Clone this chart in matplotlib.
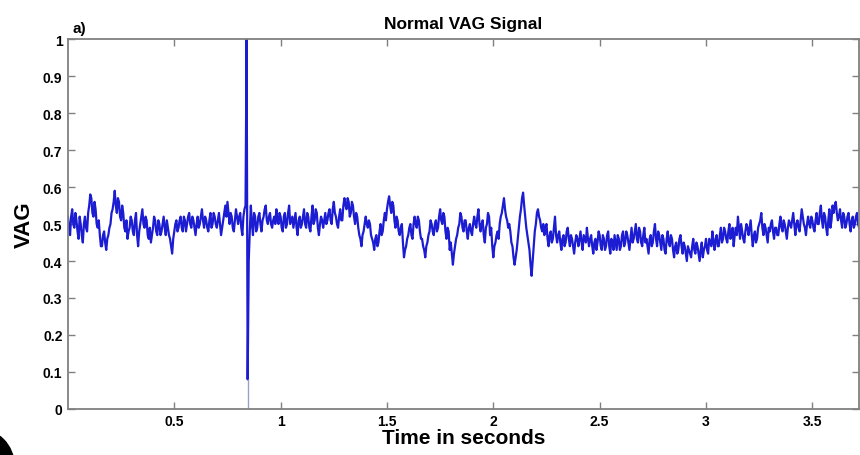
import numpy as np
import matplotlib
matplotlib.use('Agg')
import matplotlib.pyplot as plt
from matplotlib.patches import Circle
from matplotlib import rcParams
rcParams['font.family'] = 'Liberation Sans'
rcParams['font.weight'] = 'bold'

# VAG signal: samples every 0.01 s ...
dt = 0.01
vag = [
    0.52, 0.47, 0.54, 0.49, 0.51, 0.46, 0.50, 0.45, 0.52, 0.48,
    0.55, 0.57, 0.52, 0.54, 0.49, 0.47, 0.44, 0.48, 0.43, 0.47,
    0.50, 0.54, 0.59, 0.53, 0.56, 0.51, 0.53, 0.48, 0.46, 0.49,
    0.51, 0.47, 0.53, 0.44, 0.50, 0.54, 0.49, 0.51, 0.46, 0.45,
    0.49, 0.51, 0.47, 0.50, 0.48, 0.52, 0.47, 0.49, 0.46, 0.42,
    0.48, 0.51, 0.49, 0.52, 0.48, 0.51, 0.50, 0.53, 0.49, 0.51,
    0.47, 0.52, 0.50, 0.54, 0.49, 0.51, 0.48, 0.53, 0.50, 0.52,
    0.49, 0.53, 0.47, 0.51, 0.55, 0.56, 0.50, 0.52, 0.48, 0.54,
    0.50, 0.53, 0.47, 0.54, 1.00, 0.40, 0.55, 0.47, 0.52, 0.49,
    0.53, 0.48, 0.52, 0.55, 0.50, 0.53, 0.49, 0.52, 0.54, 0.50,
    0.52, 0.48, 0.53, 0.50, 0.55, 0.51, 0.49, 0.53, 0.47, 0.52,
    0.50, 0.54, 0.49, 0.52, 0.48, 0.55, 0.51, 0.53, 0.47, 0.52,
    0.49, 0.53, 0.51, 0.54, 0.50, 0.56, 0.52, 0.49, 0.54, 0.51,
    0.57, 0.54, 0.56, 0.53, 0.55, 0.50, 0.52, 0.47, 0.44, 0.48,
    0.52, 0.49, 0.50, 0.46, 0.43, 0.47, 0.45, 0.50, 0.48, 0.53,
    0.54, 0.575, 0.53, 0.55, 0.49, 0.51, 0.47, 0.50, 0.41, 0.44,
    0.47, 0.50, 0.46, 0.52, 0.49, 0.51, 0.46, 0.44, 0.41, 0.45,
    0.48, 0.50, 0.47, 0.51, 0.49, 0.54, 0.50, 0.52, 0.46, 0.48,
    0.45, 0.39, 0.44, 0.47, 0.50, 0.52, 0.48, 0.51, 0.46, 0.50,
    0.47, 0.52, 0.49, 0.54, 0.48, 0.51, 0.45, 0.50, 0.52, 0.49,
    0.41, 0.45, 0.48, 0.50, 0.53, 0.57, 0.52, 0.49, 0.48, 0.44,
    0.39, 0.43, 0.49, 0.54, 0.585, 0.52, 0.47, 0.43, 0.36, 0.44,
    0.50, 0.54, 0.51, 0.48, 0.47, 0.50, 0.44, 0.48, 0.46, 0.52,
    0.45, 0.48, 0.43, 0.47, 0.45, 0.49, 0.44, 0.46, 0.42, 0.47,
    0.44, 0.48, 0.43, 0.46, 0.49, 0.44, 0.47, 0.42, 0.46, 0.45,
    0.47, 0.43, 0.46, 0.44, 0.48, 0.42, 0.45, 0.47, 0.43, 0.46,
    0.44, 0.48, 0.45, 0.47, 0.43, 0.49, 0.46, 0.50, 0.45, 0.48,
    0.44, 0.49, 0.46, 0.42, 0.47, 0.45, 0.50, 0.44, 0.47, 0.43,
    0.46, 0.42, 0.48, 0.44, 0.46, 0.41, 0.45, 0.43, 0.47, 0.42,
    0.44, 0.40, 0.43, 0.41, 0.46, 0.42, 0.44, 0.40, 0.45, 0.43,
    0.46, 0.42, 0.45, 0.48, 0.43, 0.47, 0.44, 0.49, 0.46, 0.48,
    0.45, 0.50, 0.47, 0.44, 0.49, 0.52, 0.46, 0.48, 0.45, 0.50,
    0.47, 0.51, 0.44, 0.48, 0.46, 0.50, 0.53, 0.47, 0.49, 0.45,
    0.48, 0.51, 0.46, 0.49, 0.47, 0.52, 0.48, 0.50, 0.46, 0.51,
    0.49, 0.53, 0.47, 0.51, 0.48, 0.54, 0.50, 0.47, 0.52, 0.49,
    0.51, 0.48, 0.53, 0.50, 0.55, 0.49, 0.52, 0.47, 0.54, 0.51,
    0.53, 0.56, 0.51, 0.54, 0.49, 0.52, 0.50, 0.53, 0.48, 0.52,
    0.50, 0.53, 0.49,
]
# ... and the samples half way between them
vag_mid = [
    0.49, 0.52, 0.50, 0.53, 0.48, 0.52, 0.47, 0.50, 0.49, 0.53,
    0.58, 0.53, 0.56, 0.50, 0.51, 0.44, 0.47, 0.45, 0.46, 0.49,
    0.53, 0.56, 0.55, 0.57, 0.52, 0.55, 0.49, 0.51, 0.48, 0.52,
    0.48, 0.51, 0.47, 0.48, 0.52, 0.50, 0.52, 0.47, 0.49, 0.47,
    0.52, 0.48, 0.51, 0.47, 0.50, 0.49, 0.51, 0.47, 0.44, 0.46,
    0.50, 0.48, 0.51, 0.49, 0.52, 0.48, 0.52, 0.50, 0.52, 0.49,
    0.50, 0.49, 0.52, 0.51, 0.52, 0.49, 0.51, 0.49, 0.53, 0.50,
    0.51, 0.50, 0.49, 0.53, 0.52, 0.53, 0.53, 0.49, 0.51, 0.52,
    0.52, 0.49, 0.52, 0.55, 0.08, 0.48, 0.50, 0.53, 0.48, 0.52,
    0.50, 0.51, 0.54, 0.51, 0.52, 0.50, 0.51, 0.50, 0.51, 0.53,
    0.49, 0.52, 0.49, 0.53, 0.50, 0.52, 0.51, 0.49, 0.51, 0.49,
    0.52, 0.50, 0.53, 0.49, 0.52, 0.50, 0.54, 0.49, 0.50, 0.51,
    0.51, 0.50, 0.53, 0.51, 0.54, 0.53, 0.50, 0.52, 0.51, 0.55,
    0.55, 0.57, 0.52, 0.56, 0.52, 0.53, 0.49, 0.46, 0.47, 0.50,
    0.50, 0.51, 0.47, 0.45, 0.46, 0.44, 0.48, 0.47, 0.51, 0.51,
    0.56, 0.55, 0.56, 0.51, 0.52, 0.48, 0.49, 0.45, 0.43, 0.46,
    0.49, 0.47, 0.50, 0.50, 0.52, 0.48, 0.46, 0.43, 0.44, 0.47,
    0.51, 0.48, 0.50, 0.48, 0.52, 0.51, 0.53, 0.48, 0.49, 0.43,
    0.42, 0.42, 0.46, 0.49, 0.53, 0.49, 0.51, 0.48, 0.49, 0.48,
    0.50, 0.50, 0.52, 0.50, 0.50, 0.47, 0.49, 0.53, 0.47, 0.44,
    0.44, 0.47, 0.46, 0.52, 0.55, 0.54, 0.51, 0.50, 0.45, 0.41,
    0.41, 0.46, 0.52, 0.57, 0.55, 0.49, 0.45, 0.39, 0.40, 0.48,
    0.53, 0.52, 0.49, 0.50, 0.49, 0.46, 0.47, 0.45, 0.49, 0.47,
    0.47, 0.45, 0.46, 0.44, 0.48, 0.46, 0.47, 0.44, 0.45, 0.46,
    0.46, 0.45, 0.47, 0.45, 0.46, 0.46, 0.44, 0.45, 0.43, 0.48,
    0.44, 0.47, 0.43, 0.47, 0.44, 0.46, 0.43, 0.45, 0.47, 0.43,
    0.47, 0.44, 0.48, 0.45, 0.46, 0.45, 0.48, 0.46, 0.49, 0.45,
    0.47, 0.45, 0.44, 0.46, 0.44, 0.48, 0.46, 0.48, 0.45, 0.47,
    0.43, 0.46, 0.45, 0.47, 0.43, 0.44, 0.42, 0.46, 0.44, 0.45,
    0.42, 0.44, 0.42, 0.44, 0.43, 0.45, 0.42, 0.43, 0.41, 0.44,
    0.43, 0.46, 0.44, 0.45, 0.46, 0.44, 0.47, 0.45, 0.49, 0.46,
    0.48, 0.46, 0.49, 0.47, 0.47, 0.49, 0.50, 0.46, 0.48, 0.49,
    0.49, 0.47, 0.47, 0.45, 0.49, 0.51, 0.49, 0.50, 0.47, 0.49,
    0.50, 0.48, 0.49, 0.47, 0.50, 0.49, 0.51, 0.48, 0.49, 0.50,
    0.51, 0.50, 0.50, 0.49, 0.51, 0.52, 0.49, 0.50, 0.50, 0.52,
    0.49, 0.51, 0.50, 0.53, 0.51, 0.53, 0.49, 0.51, 0.49, 0.55,
    0.55, 0.53, 0.52, 0.51, 0.53, 0.49, 0.52, 0.50, 0.51, 0.49,
    0.52, 0.50,
]

sig = np.empty(2 * len(vag) - 1)
sig[0::2] = vag
sig[1::2] = vag_mid
t = np.arange(len(sig)) * dt / 2

xticks = [0.5, 1, 1.5, 2, 2.5, 3, 3.5]
yticks = [0, 0.1, 0.2, 0.3, 0.4, 0.5, 0.6, 0.7, 0.8, 0.9, 1]
ytick_labels = ['0', '0.1', '0.2', '0.3', '0.4', '0.5', '0.6', '0.7', '0.8', '0.9', '1']

fig = plt.figure(figsize=(8.6, 4.56), dpi=100)
ax = fig.add_axes([0.079, 0.101, 0.92, 0.811])

ax.plot(t, sig, color='#1c1cd2', lw=1.6)
# faint trace below the spike down to zero
i_sp = int(np.argmin(sig))
ax.vlines(t[i_sp], 0, sig[i_sp], color='#9aa0c8', lw=1.0)

ax.set_xlim(0, 3.72)
ax.set_ylim(0, 1)
ax.set_xticks(xticks)
ax.set_xticklabels([('%g' % v) for v in xticks])
ax.set_yticks(yticks)
ax.set_yticklabels(ytick_labels)
ax.tick_params(direction='in', length=5, width=1, color='#808080',
               labelsize=10, top=True, right=True, pad=4)
for s in ax.spines.values():
    s.set_color('#808080')
    s.set_linewidth(1.3)

ax.set_xlabel('Time in seconds', fontsize=15, fontweight='bold', labelpad=0)
ax.set_ylabel('VAG', fontsize=16, fontweight='bold', labelpad=6)
ax.set_title('Normal VAG Signal', fontsize=12.5, fontweight='bold', pad=8)
ax.text(0.006, 1.01, 'a)', transform=ax.transAxes, fontsize=11,
        fontweight='bold', va='bottom')

# dark rounded corner of the scanned image
fig.patches.append(Circle((-22, -10), 36, transform=None, color='black'))

fig.savefig('out.png', dpi=100)
